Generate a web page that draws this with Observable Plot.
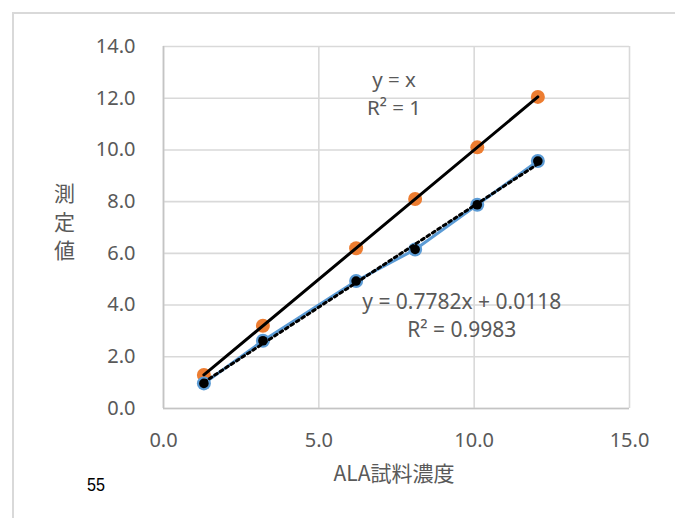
<!DOCTYPE html>
<html>
<head>
<meta charset="utf-8">
<script src="https://cdn.jsdelivr.net/npm/d3@7"></script>
<script src="https://cdn.jsdelivr.net/npm/@observablehq/plot@0.6"></script>
<style>
  html, body { margin: 0; padding: 0; background: #fff; }
  #wrap { position: relative; width: 675px; height: 518px; overflow: hidden; }
  #frame { position: absolute; left: 12px; top: 12px; width: 700px; height: 600px;
           border-left: 2px solid #d9d9d9; border-top: 2px solid #d9d9d9; }
  #chart { position: absolute; left: 0; top: 0; }
  .lbl { position: absolute; color: #595959; font-family: "Noto Sans CJK JP", "Noto Sans", sans-serif; white-space: nowrap; }
</style>
</head>
<body>
<div id="wrap">
  <div id="frame"></div>
  <div id="chart"></div>
  <div class="lbl" id="ytitle" style="left:54px; top:178px; font-size:21px; line-height:28.5px; text-align:center;">測<br>定<br>値</div>
  <div class="lbl" id="xtitle" style="left:394px; top:472px; font-size:21px; transform:translate(-50%,-50%);">ALA試料濃度</div>
  <div class="lbl" id="note" style="left:87px; top:485px; font-size:19px; color:#000; font-family:'Liberation Sans Narrow','Liberation Sans',sans-serif; transform:translateY(-50%) scaleX(0.85); transform-origin:left center;">55</div>
</div>
<script>
// Sample concentration (x)
const concentration = [1.3, 3.2, 6.2, 8.1, 10.1, 12.05];
// Expected (orange series, y = x)
const expected = [1.3, 3.2, 6.2, 8.1, 10.1, 12.05];
// Measured (blue series)
const measured = [0.97, 2.62, 4.93, 6.15, 7.88, 9.57];
// Tick labels
const xTicks = [0, 5, 10, 15];
const yTicks = [0, 2, 4, 6, 8, 10, 12, 14];
// Trendline labels
const labelIdentity = ["y = x", "R² = 1"];
const labelFit = ["y = 0.7782x + 0.0118", "R² = 0.9983"];

const orange = concentration.map((x, i) => ({x, y: expected[i]}));
const blue = concentration.map((x, i) => ({x, y: measured[i]}));

const fmt = d => d.toFixed(1);
const chart = Plot.plot({
  width: 675,
  height: 518,
  marginLeft: 163,
  marginRight: 46,
  marginTop: 46,
  marginBottom: 110,
  style: {fontFamily: "'Noto Sans', sans-serif", fontSize: "20px", color: "#595959", background: "transparent"},
  x: {domain: [0, 15], ticks: xTicks, tickFormat: fmt, label: null},
  y: {domain: [0, 14], ticks: yTicks, tickFormat: fmt, label: null},
  marks: [
    Plot.gridX(xTicks, {stroke: "#d9d9d9", strokeOpacity: 1, strokeWidth: 1.6}),
    Plot.gridY(yTicks, {stroke: "#d9d9d9", strokeOpacity: 1, strokeWidth: 1.6}),
    Plot.ruleX([0], {stroke: "#c4c4c4", strokeWidth: 1.6}),
    Plot.ruleY([0], {stroke: "#c4c4c4", strokeWidth: 1.6}),
    Plot.axisX(xTicks, {tickSize: 0, tickPadding: 24, tickFormat: fmt, fill: "#595959", fontSize: 20, label: null}),
    Plot.axisY(yTicks, {tickSize: 0, tickPadding: 28, tickFormat: fmt, fill: "#595959", fontSize: 20, label: null}),
    // orange series
    Plot.dot(orange, {x: "x", y: "y", r: 7, fill: "#ed7d31", stroke: "none"}),
    Plot.linearRegressionY(orange, {x: "x", y: "y", ci: 0, stroke: "#000", strokeWidth: 3}),
    // blue series
    Plot.line(blue, {x: "x", y: "y", stroke: "#5b9bd5", strokeWidth: 3}),
    Plot.dot(blue, {x: "x", y: "y", r: 7, fill: "#5b9bd5", stroke: "none"}),
    Plot.dot(blue, {x: "x", y: "y", r: 4.8, fill: "#000", stroke: "none"}),
    Plot.linearRegressionY(blue, {x: "x", y: "y", ci: 0, stroke: "#000", strokeWidth: 3, strokeDasharray: "3,3.5"}),
    // trendline labels
    Plot.text([labelIdentity[0]], {x: 7.42, y: 12.68, text: d => d, fill: "#595959", fontSize: 20.5}),
    Plot.text([labelIdentity[1]], {x: 7.42, y: 11.6, text: d => d, fill: "#595959", fontSize: 20.5}),
    Plot.text([labelFit[0]], {x: 9.6, y: 4.09, text: d => d, fill: "#595959", fontSize: 21}),
    Plot.text([labelFit[1]], {x: 9.6, y: 3.04, text: d => d, fill: "#595959", fontSize: 21})
  ]
});
document.getElementById("chart").appendChild(chart);
</script>
</body>
</html>
